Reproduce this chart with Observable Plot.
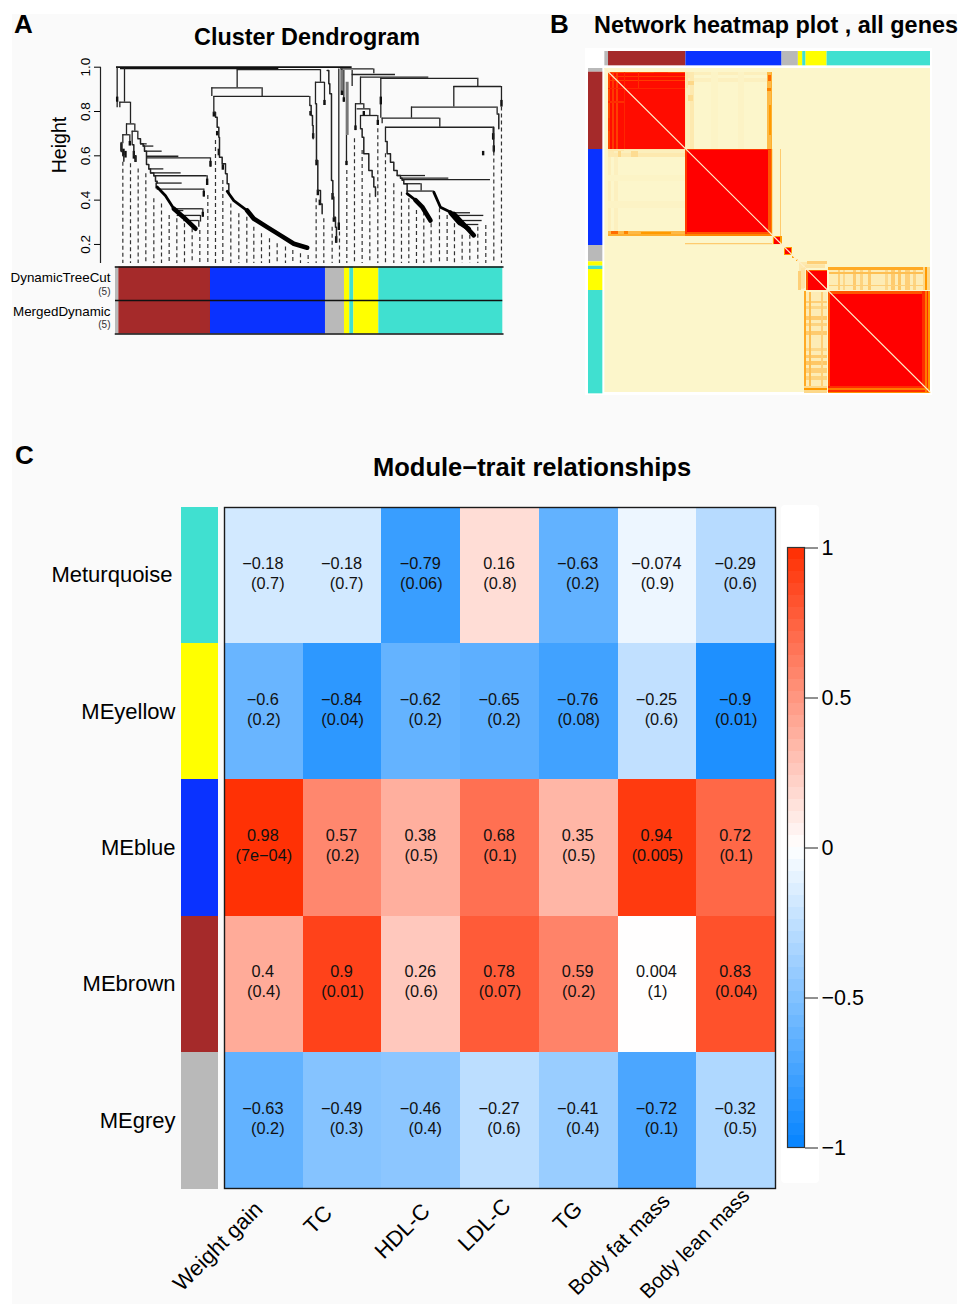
<!DOCTYPE html>
<html><head><meta charset="utf-8">
<script src="https://cdn.jsdelivr.net/npm/d3@7"></script>
<script src="https://cdn.jsdelivr.net/npm/@observablehq/plot@0.6"></script>
<style>
html,body{margin:0;padding:0;background:#fff;}
#page{position:relative;width:960px;height:1304px;overflow:hidden;font-family:"Liberation Sans",Arial,sans-serif;color:#000;}
#page>div,#page>svg{position:absolute;}
.bg{background:#fafafa;left:12px;top:14px;width:945px;height:1290px;}
.w1{background:#fff;left:585px;top:48px;width:347px;height:347px;}
.w2{background:#fff;left:781px;top:505px;width:38px;height:678px;border-radius:4px;}
.t{font-weight:bold;white-space:nowrap;line-height:1;}
.holder svg{display:block;overflow:visible;}
.holder{position:absolute;}
</style></head><body><div id="page">
<div class="bg"></div><div class="w1"></div><div class="w2"></div>
<div class="t" style="left:14px;top:11px;font-size:26px;">A</div>
<div class="t" style="left:550px;top:11px;font-size:26px;">B</div>
<div class="t" style="left:15px;top:442px;font-size:26px;">C</div>
<div class="t" style="left:194px;top:26px;font-size:23.4px;">Cluster Dendrogram</div>
<div class="t" style="left:594px;top:14px;font-size:23.4px;">Network heatmap plot , all genes</div>
<div class="t" style="left:373px;top:455px;font-size:25.5px;">Module−trait relationships</div>
</div>
<script>
// ---------- shared module colours ----------
const moduleColor = {grey:"#b9b9b9",brown:"#a52a2a",blue:"#0a32ff",yellow:"#ffff00",turquoise:"#40e0d0"};
const stripModules = ["grey","brown","blue","grey","yellow","turquoise","yellow","turquoise"];

// ---------- panel A: dendrogram (gene order on x, height on y) ----------
const stripStopsA = [0,10,285,630,687,703,715,790,1162];
const stripRows = ["DynamicTreeCut","MergedDynamic"];
const heightTicks = [0.2,0.4,0.6,0.8,1.0];
const rootBars = [[3,710,1.0],[15,490,0.995]];
const mergeBars = [
 [365,615,.989],[675,775,.992],[710,840,.967],[735,940,.955],[796,1087,.950],[1015,1158,.913],
 [888,1145,.820],[800,973,.770],[810,1133,.729],[289,440,.907],[295,583,.868],[600,627,.932],
 [720,745,.835],[725,763,.812],[735,787,.782],[13,45,.842],[33,58,.744],[22,43,.695],[50,67,.711],
 [75,95,.654],[83,115,.644],[87,140,.621],[93,190,.598],[93,285,.591],[100,145,.541],[105,197,.523],
 [115,275,.510],[125,200,.477],[125,265,.450],[175,262,.361],[185,205,.353],[185,255,.331],[205,250,.308],
 [845,930,.511],[855,1000,.499],[860,1125,.493],[865,917,.474],[875,953,.441],
 [1005,1065,.343],[1020,1105,.331],[1025,1100,.308],[1030,1090,.290]
];
const mergeStems = [
 [5,1,.817],[27,.995,.842],[13,.842,.817],[45,.842,.744],[33,.744,.695],[58,.744,.711],[22,.695,.654],
 [43,.695,.654],[50,.711,.65],[67,.711,.677],[285,.591,.549],[275,.510,.466],[265,.450,.414],[262,.361,.323],
 [255,.331,.301],[250,.308,.278],[365,.989,.907],[289,.907,.868],[440,.907,.868],[295,.868,.797],[583,.868,.827],
 [615,.989,.932],[627,.932,.827],[600,.932,.835],[775,.992,.970],[670,.992,.278],[679,.992,.872],[685,.985,.842],
 [693,.692,.556],[710,.985,.913],[735,.955,.835],[720,.835,.714],[745,.835,.812],[763,.812,.782],[787,.782,.737],
 [735,.782,.722],[796,.950,.770],[1087,.950,.913],[1158,.913,.827],[1015,.913,.820],[1145,.820,.789],[888,.820,.770],
 [973,.770,.729],[1133,.729,.669],[810,.729,.665],[917,.474,.441],[953,.441,.436],[875,.441,.429],[800,.770,.745]
];
const heavyStems = [
 [5,.865,.842],[285,.575,.549],[275,.495,.466],[265,.440,.414],[262,.345,.323],[43,.665,.644],[627,.85,.827],
 [1158,.85,.820],[1133,.70,.672],[1135,.645,.617],[670,.297,.263],[585,.80,.78],[593,.70,.677],[679,.892,.872],[685,.862,.842],
 [693,.575,.556],[745,.80,.78],[720,.735,.714],[787,.76,.737],[796,.865,.83],[24,.63,.60],[30,.62,.59],[18,.655,.62],
 [55,.62,.585],[60,.60,.57],[295,.797,.775],[305,.71,.69],[310,.63,.60],[322,.56,.535],[603,.58,.555],[607,.445,.42],
 [613,.40,.375],[651,.43,.40],[655,.32,.30],[662,.235,.205],[1103,.62,.60]
];
const greyStems = [[679,.985,.892],[695,.932,.692]];
const thinChains = [
 [[17,.66],[17,.62],[22,.60],[25,.575]],[[50,.65],[55,.60],[60,.575]],
 [[67,.677],[75,.654],[83,.644],[87,.621],[93,.591],[93,.561],[100,.541],[105,.523],[115,.510],[120,.485],[125,.477],[122,.455]],
 [[295,.797],[300,.774],[305,.729],[310,.684],[312,.594],[320,.564],[330,.519],[335,.474],[340,.429]],
 [[583,.827],[587,.782],[591,.737],[593,.677]],
 [[600,.835],[603,.579],[607,.444],[615,.383],[620,.338]],
 [[635,.985],[640,.925],[643,.880],[648,.489],[652,.414],[655,.323],[660,.278],[663,.211]],
 [[735,.722],[740,.684],[745,.609],[760,.534],[770,.504],[775,.459],[780,.417]],
 [[810,.665],[815,.609],[825,.571],[835,.534],[845,.511],[855,.499],[860,.490],[865,.474],[875,.441]],
 [[1145,.789],[1150,.744],[1150,.722]],
 [[1133,.729],[1135,.617]]
];
const mediumChains = [
 [[125,.459],[150,.420],[175,.361]],
 [[335,.44],[355,.398],[395,.353]],
 [[955,.436],[975,.368],[1015,.338]],
 [[875,.429],[900,.400]]
];
const heavyChains = [
 [[175,.361],[205,.322],[240,.271]],
 [[395,.353],[415,.316],[455,.278],[495,.241],[535,.203],[575,.185]],
 [[900,.400],[920,.370],[945,.308]],
 [[1015,.338],[1045,.290],[1075,.241]],
 [[1005,.343],[1030,.300],[1060,.270]]
];
const leafOrder = [22,45,68,91,115,138,161,184,207,230,253,277,300,322,346,370,394,415,438,462,485,510,532,555,578,602,625,650,672,694,717,740,763,787,810,835,858,880,903,925,947,972,995,1017,1040,1063,1087,1111,1135,1158];
const leafTop = [.571,.564,.541,.519,.406,.383,.331,.316,.293,.271,.263,.421,.669,.489,.383,.338,.323,.278,.248,.226,.203,.188,.173,.158,.150,.406,.316,.278,.256,.534,.677,.624,.429,.722,.609,.474,.436,.406,.353,.346,.293,.361,.331,.293,.241,.241,.278,.286,.617,.820];

// ---------- panel B: network heatmap (gene order on both axes) ----------
const stripStopsB = [0,11,243,531,580,593,603,666,976];
const tomBlocks = [ // [x1,x2,y1,y2,similarity]; mirrored across the diagonal
 [11,243,11,243,.97],[11,243,11,16,.8],[11,243,24,28,.85],[35,40,11,243,.84],[11,16,11,243,.8],[60,63,11,243,.9],[100,104,11,60,.88],[150,190,11,16,.85],
 [243,503,243,503,1],[491,503,243,503,.78],[243,503,243,247,.85],[498,503,243,503,.66],
 [503,531,503,531,.6],[507,527,507,527,1],
 [537,562,537,562,.6],[541,558,541,558,1],
 [563,569,563,569,.55],[573,580,573,580,.55],[585,591,585,591,.5],[598,603,598,603,.5],
 [605,666,605,666,1],[605,666,605,609,.75],
 [669,976,669,976,1],[669,976,669,677,.78],[953,976,669,976,.88],[961,966,669,976,.68],[971,976,669,976,.62],
 [243,258,11,243,.09],[243,250,11,60,.2],[250,262,11,30,.16],[262,488,11,20,.09],[262,488,30,42,.07],[320,340,11,243,.03],[400,420,11,243,.035],
 [490,503,11,60,.62],[490,503,60,243,.42],[496,503,11,243,.5],
 [243,245,11,243,.18],[11,243,256,268,.16],[40,50,250,268,.3],[80,100,250,266,.28],
 [11,243,488,498,.45],[20,40,490,498,.72],[60,70,488,498,.66],[110,200,492,498,.6],
 [503,505,243,531,.16],[528,530,243,531,.14],[243,503,503,505,.26],[243,503,526,528,.36],
 [600,601,11,243,.09],
 [669,976,597,605,.52],[672,955,605,666,.13],
 [700,706,605,666,.34],[715,722,605,666,.3],[745,755,605,666,.36],[765,775,605,666,.32],[790,800,605,666,.36],
 [840,850,605,666,.3],[860,870,605,666,.36],[880,890,605,666,.38],[900,915,605,666,.34],[925,935,605,666,.32],
 [672,955,612,618,.42],[672,955,650,654,.34],[955,976,597,666,.3],[961,966,597,666,.6],
 [583,598,582,662,.16],[608,666,579,589,.34],[590,600,600,660,.22]
];

// ---------- panel C: module-trait relationships ----------
const traits = ["Weight gain","TC","HDL-C","LDL-C","TG","Body fat mass","Body lean mass"];
const modules = ["Meturquoise","MEyellow","MEblue","MEbrown","MEgrey"];
const moduleKeys = ["turquoise","yellow","blue","brown","grey"];
const correlations = [
 ["−0.18","−0.18","−0.79","0.16","−0.63","−0.074","−0.29"],
 ["−0.6","−0.84","−0.62","−0.65","−0.76","−0.25","−0.9"],
 ["0.98","0.57","0.38","0.68","0.35","0.94","0.72"],
 ["0.4","0.9","0.26","0.78","0.59","0.004","0.83"],
 ["−0.63","−0.49","−0.46","−0.27","−0.41","−0.72","−0.32"]
];
const pValues = [
 ["0.7","0.7","0.06","0.8","0.2","0.9","0.6"],
 ["0.2","0.04","0.2","0.2","0.08","0.6","0.01"],
 ["7e−04","0.2","0.5","0.1","0.5","0.005","0.1"],
 ["0.4","0.01","0.6","0.07","0.2","1","0.04"],
 ["0.2","0.3","0.4","0.6","0.4","0.1","0.5"]
];
const legendTicks = [-1,-0.5,0,0.5,1];
const traitLabelShift = [[-5,3],[-14,7],[5,5],[7,0],[0,3],[9,-5],[10,-10]];
const traitLabelSize = [22,22,22,22,22,21,20.4];

// ---------- helpers ----------
const FONT = '"Liberation Sans",Arial,sans-serif';
const page = document.getElementById("page");
function place(svg,left,top){
  const d=document.createElement("div");d.className="holder";d.style.left=left+"px";d.style.top=top+"px";
  svg.style.background="transparent";svg.style.overflow="visible";d.appendChild(svg);page.appendChild(d);
}
const stripData = (stops) => stripModules.map((m,i)=>({m,x1:stops[i],x2:stops[i+1]}));
const chainPts = (chains) => chains.flatMap((c,i)=>c.map(([x,h])=>({x,h,i})));
const leaves = leafOrder.map((x,i)=>({x,top:leafTop[i]}));

// Panel A dendrogram
place(Plot.plot({
  width:473,height:209,marginTop:6.7,marginBottom:6,marginLeft:70,marginRight:0.7,
  style:{fontFamily:FONT,background:"transparent"},
  x:{domain:[-45,1162],axis:null},
  y:{domain:[0.114,1],label:null},
  marks:[
    Plot.ruleX([-45],{y1:0.114,y2:1,stroke:"#222",strokeWidth:1.2}),
    Plot.axisY({ticks:heightTicks,tickSize:6,tickRotate:-90,tickPadding:5,fontSize:13.5,label:null,tickFormat:d3.format(".1f"),textAnchor:"middle"}),
    Plot.ruleX(leaves,{x:"x",y1:"top",y2:0.114,stroke:"#333",strokeWidth:1.2,strokeDasharray:"4 3"}),
    Plot.ruleY(rootBars,{x1:d=>d[0],x2:d=>d[1],y:d=>d[2],stroke:"#111",strokeWidth:1.8}),
    Plot.ruleY(mergeBars,{x1:d=>d[0],x2:d=>d[1],y:d=>d[2],stroke:"#222",strokeWidth:1.3}),
    Plot.ruleX(mergeStems,{x:d=>d[0],y1:d=>d[1],y2:d=>d[2],stroke:"#222",strokeWidth:1.3}),
    Plot.ruleX(greyStems,{x:d=>d[0],y1:d=>d[1],y2:d=>d[2],stroke:"#777",strokeWidth:3}),
    Plot.ruleX(heavyStems,{x:d=>d[0],y1:d=>d[1],y2:d=>d[2],stroke:"#111",strokeWidth:2.4}),
    Plot.line(chainPts(thinChains),{x:"x",y:"h",z:"i",curve:"step-after",stroke:"#222",strokeWidth:1.5}),
    Plot.line(chainPts(mediumChains),{x:"x",y:"h",z:"i",stroke:"#000",strokeWidth:2.8}),
    Plot.line(chainPts(heavyChains),{x:"x",y:"h",z:"i",stroke:"#000",strokeWidth:4.6})
  ]
}),30,60);

// Panel A colour strips
place(Plot.plot({
  width:503,height:68,marginTop:0.5,marginBottom:0.5,marginLeft:115,marginRight:0.7,
  style:{fontFamily:FONT,background:"transparent"},
  x:{domain:[0,1162],axis:null},
  y:{domain:stripRows,padding:0,round:false,label:null},
  marks:[
    stripRows.map(r=>Plot.barX(stripData(stripStopsA),{x1:"x1",x2:"x2",y:()=>r,fill:{value:d=>moduleColor[d.m],scale:null}})),
    Plot.frame({anchor:"top",stroke:"#111",strokeWidth:1.5}),
    Plot.frame({anchor:"bottom",stroke:"#111",strokeWidth:1.5}),
    Plot.ruleY(["MergedDynamic"],{dy:-16.75,stroke:"#111",strokeWidth:1.5}),
    Plot.axisY({tickSize:0,tickPadding:5,fontSize:13.4,dy:-6,label:null}),
    Plot.axisY({tickSize:0,tickPadding:5,fontSize:10,dy:8,label:null,tickFormat:()=>"(5)",fill:"#333"})
  ]
}),0,266);
const ht=document.createElement("div");
ht.textContent="Height";ht.style.cssText="left:59px;top:145px;font-size:19.6px;transform:translate(-50%,-50%) rotate(-90deg);white-space:nowrap;";
page.appendChild(ht);

// Panel B
const mirrored = tomBlocks.flatMap(b=>[b,[b[2],b[3],b[0],b[1],b[4]]]);
place(Plot.plot({
  width:342,height:341,margin:0,
  style:{background:"transparent"},
  x:{domain:[-49,976],axis:null},
  y:{domain:[-51,972],range:[0,341],axis:null},
  color:{type:"linear",domain:[0,.25,.6,1],range:["#fcf6cb","#fde2a0","#ff9a00","#ff0000"]},
  marks:[
    Plot.rect([0],{x1:0,x2:976,y1:0,y2:972,fill:{value:()=>"#fcf6cb",scale:null}}),
    Plot.rect(mirrored,{x1:d=>d[0],x2:d=>d[1],y1:d=>d[2],y2:d=>d[3],fill:d=>d[4],shapeRendering:"crispEdges"}),
    Plot.rect(stripData(stripStopsB),{x1:"x1",x2:"x2",y1:-51,y2:-8,fill:{value:d=>moduleColor[d.m],scale:null}}),
    Plot.rect(stripData(stripStopsB),{y1:"x1",y2:"x2",x1:-49,x2:-6,fill:{value:d=>moduleColor[d.m],scale:null}}),
    Plot.line([[0,0],[976,972]],{x:d=>d[0],y:d=>d[1],stroke:"#ffeec8",strokeWidth:1.1})
  ]
}),587.7,50.7);

// Panel C module strip and labels
place(Plot.plot({
  width:218,height:690,marginTop:6.5,marginBottom:1.5,marginLeft:181,marginRight:0,
  style:{fontFamily:FONT,background:"transparent"},
  y:{domain:modules,padding:0,round:false,label:null},
  marks:[
    Plot.cell(modules,{y:d=>d,fill:{value:d=>moduleColor[moduleKeys[modules.indexOf(d)]],scale:null},shapeRendering:"crispEdges"}),
    modules.map((m,i)=>Plot.axisY({ticks:[m],tickSize:0,tickPadding:i===0?9:6,fontSize:22,label:null}))
  ]
}),0,500);

// Panel C heatmap
const cells = modules.flatMap((m,i)=>traits.map((t,j)=>({
  m,t,r:+correlations[i][j].replace("−","-"),top:correlations[i][j],p:"("+pValues[i][j]+")"
})));
const shifted = d => d.top.length===5 && d.p.length===5;
place(Plot.plot({
  width:960,height:804,marginTop:7,marginBottom:116,marginLeft:224,marginRight:185,
  style:{fontFamily:FONT,background:"transparent"},
  x:{domain:traits,padding:0,round:false,label:null},
  y:{domain:modules,padding:0,round:false,axis:null},
  color:{type:"linear",domain:[-1,0,1],range:["#0584ff","#ffffff","#ff2d00"]},
  marks:[
    Plot.cell(cells,{x:"t",y:"m",fill:"r",shapeRendering:"crispEdges"}),
    Plot.frame({stroke:"#1a1a1a",strokeWidth:1.4}),
    Plot.text(cells,{x:"t",y:"m",text:"top",dx:-1,dy:-12,fontSize:16.3,fill:"#111"}),
    Plot.text(cells.filter(d=>!shifted(d)),{x:"t",y:"m",text:"p",dy:8,fontSize:16.3,fill:"#111"}),
    Plot.text(cells.filter(shifted),{x:"t",y:"m",text:"p",dy:8,dx:4,fontSize:16.3,fill:"#111"}),
    traits.map((t,i)=>Plot.axisX({ticks:[t],tickSize:0,tickRotate:-45,tickPadding:14,fontSize:traitLabelSize[i],label:null,dx:traitLabelShift[i][0],dy:traitLabelShift[i][1]}))
  ]
}),0,500);

// Panel C colour bar
const legendSteps = d3.range(-1,1,0.04).map(v=>({v,y1:v,y2:v+0.04}));
place(Plot.plot({
  width:90,height:604,marginTop:2,marginBottom:2,marginLeft:7,marginRight:66,
  style:{fontFamily:FONT,background:"transparent"},
  x:{domain:[0,1],axis:null},
  y:{domain:[-1,1],label:null},
  color:{type:"linear",domain:[-1,0,1],range:["#0584ff","#ffffff","#ff2d00"]},
  marks:[
    Plot.rect(legendSteps,{x1:0,x2:1,y1:"y1",y2:"y2",fill:d=>d.v+0.02,shapeRendering:"crispEdges"}),
    Plot.frame({stroke:"#333",strokeWidth:1.2}),
    Plot.axisY({anchor:"right",ticks:legendTicks,tickSize:13,tickPadding:4,fontSize:21.5,label:null,dy:0.5,
      tickFormat:d=>String(d).replace("-","−"),stroke:"#222"})
  ]
}),780,545);
</script></body></html>
